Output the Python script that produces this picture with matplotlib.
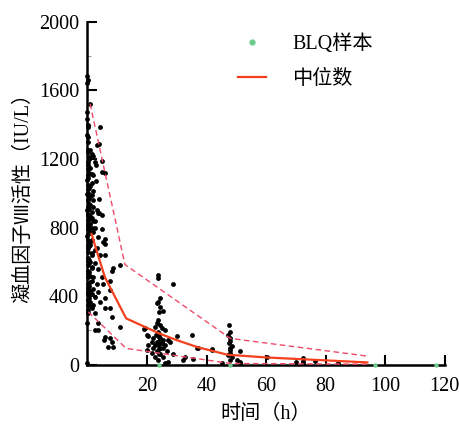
import matplotlib
matplotlib.use("Agg")
import matplotlib.pyplot as plt
from matplotlib.lines import Line2D
from matplotlib.ticker import MultipleLocator

CJK = ["Noto Sans CJK SC", "DejaVu Sans"]
SERIF = "Liberation Serif"
MIXED = [SERIF, "Noto Sans CJK SC", "DejaVu Sans"]

# observed factor VIII activity (time in h, activity in IU/L)
obs_time = [
    0, 0.3, 0, 0.9, 0, 0, 0.3, 4.2, 0, 0.3, 4.0, 3.3, 0.3, 1.4, 2.0, 0.6,
    4.8, 2.6, 0.3, 2.9, 4.8, 5.9, 0.3, 2.0, 0, 1.4, 2.9, 0.3, 2.0, 0, 0.9,
    4.0, 2.0, 0.6, 0, 2.0, 3.1, 4.0, 4.8, 0.3, 1.4, 2.6,
    0.9, 2.0, 0.3, 2.6, 4.8, 0, 2.0, 3.7, 0.9, 5.3, 0.3, 2.6, 1.4, 4.2,
    0.3, 2.6, 10.9, 1.4, 3.7, 8.2, 0.3, 2.0, 4.8, 0.9, 3.1, 5.3, 2.0, 0.3,
    3.7, 2.6, 5.9, 0.9, 4.2, 2.0, 5.9, 7.6, 0.3, 2.6, 8.2, 0, 3.7, 10.9,
    2.6, 3.7, 5.9, 7.6, 8.2, 7.0, 8.7, 0,
    8.7, 7.6, 7.6, 19.3, 19.9, 3.7, 5.9, 5.9, 3.1, 5.9, 5.6,
    0.2, 0.2, 0.2, 0.2, 0.2, 0.2, 0.2, 0.2, 0.2, 0.2, 0.2, 0.2, 0.2, 0.2,
    0.2, 0.2, 0.2, 0.2, 0.2, 0.2, 0.2, 0.2, 0.2, 0.2, 0.2, 0.2, 0.2, 0.2,
    1.0, 1.0, 1.0, 1.0, 1.0, 1.0, 1.0, 1.0, 1.0, 1.0,
    0.6, 0.6, 0.6, 0.6, 0.6, 0.6, 0.6, 0.6, 0.6, 0.6, 0.6, 0.6,
    1.6, 1.6, 1.6, 1.6, 1.6, 1.6, 1.6, 1.6, 1.6, 1.6,
    23.8, 23.8, 28.8, 24.4, 23.8, 23.3, 24.4, 25.5, 24.1, 23.8, 23.3, 24.4,
    22.7, 24.9, 19.0, 26.0, 23.8, 23.0, 20.4, 30.0, 35.0, 22.1, 24.4, 25.5,
    27.2, 21.6, 23.3, 24.9, 27.7, 22.7, 23.8, 26.0, 20.4, 24.4, 22.1, 25.5,
    37.2, 19.9, 23.3, 26.6, 42.0, 21.6, 24.4, 28.8, 22.7, 25.5, 32.8, 23.8,
    27.2, 32.2, 35.5, 26.0, 36.9, 41.7, 24.0, 24.0, 24.0, 24.0, 24.0, 24.0,
    47.6, 47.3, 47.9, 47.6, 48.4, 47.9, 51.4, 47.3, 48.4, 50.1, 47.9, 45.1,
    51.2, 51.2, 48.0, 48.0, 48.0, 48.0,
    60.2, 72.3, 72.3, 72.3, 70.0, 76.4, 84.2,
]
obs_value = [
    1684, 1663, 1643, 1522, 1473, 1435, 1386, 1386, 1337, 1327, 1289, 1279,
    1240, 1230, 1220, 1201, 1191, 1182, 1163, 1163, 1126, 1117, 1107, 1107,
    1080, 1061, 1070, 1024, 1014, 996, 986, 968, 958, 940, 902, 921, 902,
    884, 874, 865, 856, 837,
    865, 837, 810, 800, 790, 753, 772, 743, 715, 715, 678, 669, 640, 640,
    603, 593, 584, 565, 556, 546, 528, 509, 509, 481, 471, 471, 443, 424,
    424, 396, 387, 367, 367, 347, 328, 328, 299, 299, 279, 241, 241, 221,
    201, 201, 162, 153, 133, 104, 104, 7,
    565, 490, 434, 211, 172, 884, 733, 705, 678, 640, 143,
    1250, 1180, 1140, 1090, 1050, 1000, 960, 920, 880, 845, 820, 790, 760,
    730, 700, 660, 620, 580, 545, 510, 470, 450, 410, 380, 350, 320, 1400,
    1300,
    1250, 1150, 1040, 930, 820, 700, 600, 520, 430, 340,
    1210, 1120, 1030, 975, 910, 850, 780, 690, 610, 540, 460, 390,
    1110, 990, 890, 800, 730, 650, 570, 490, 410, 330,
    524, 505, 468, 387, 367, 357, 338, 314, 308, 260, 241, 231,
    221, 211, 206, 201, 192, 172, 166, 166, 172, 153, 153, 143,
    143, 133, 133, 124, 133, 114, 114, 114, 114, 100, 95, 95,
    95, 85, 81, 81, 85, 69, 65, 65, 46, 46, 46, 30,
    16, 26, 32, 7, 100, 89, 180, 160, 140, 120, 90, 60,
    231, 172, 153, 124, 108, 85, 81, 55, 46, 30, 26, 7,
    7, 16, 190, 140, 100, 70,
    46, 36, 20, 7, 16, 22, 7,
]

# below-limit-of-quantification samples
blq_time = [24, 48, 96.5, 117]
blq_value = [0, 0, 0, 0]

# median and prediction band
median_time = [1.4, 3.7, 5.9, 13, 24.4, 30, 37, 47, 60, 94]
median_value = [762, 631, 509, 270, 180, 143, 102, 58, 42, 13]
upper_time = [0.9, 12.6, 48, 94]
upper_value = [1522, 584, 153, 50]
lower_time = [0.3, 13, 48, 94]
lower_value = [308, 95, 7, 3]

fig = plt.figure(figsize=(4.6, 4.28), dpi=100)
ax = fig.add_axes([0.19, 0.148, 0.777, 0.801])

ax.scatter(obs_time, obs_value, s=12, color="black", linewidths=0, zorder=3, clip_on=False)
ax.scatter(blq_time, blq_value, s=10, color="#6dcc8c", linewidths=0, zorder=4, clip_on=False)
ax.plot(median_time, median_value, color="#f5401e", lw=1.6, zorder=5)
ax.plot(upper_time, upper_value, color="#ee4a6a", lw=1.0, ls=(0, (4, 2.5)), zorder=4)
ax.plot(lower_time, lower_value, color="#ee4a6a", lw=1.0, ls=(0, (4, 2.5)), zorder=4)

ax.set_xlim(0, 120)
ax.set_ylim(0, 2000)
ax.set_xticks([20, 40, 60, 80, 100, 120])
ax.set_yticks([0, 400, 800, 1200, 1600, 2000])
ax.yaxis.set_minor_locator(MultipleLocator(200))
ax.tick_params(axis="both", which="major", direction="in", length=7, width=1.5,
               labelsize=14.5, pad=6)
ax.tick_params(axis="x", which="major", pad=9)
ax.tick_params(axis="y", which="minor", direction="in", length=3, width=0.8, color="#999999")
for lab in ax.get_xticklabels() + ax.get_yticklabels():
    lab.set_fontfamily(SERIF)

for side in ["top", "right"]:
    ax.spines[side].set_visible(False)
for side in ["left", "bottom"]:
    ax.spines[side].set_linewidth(1.8)

ax.set_xlabel("时间（h）", family=MIXED, fontsize=14.5, labelpad=6)
ax.set_ylabel("凝血因子Ⅷ活性（IU/L）", family=MIXED, fontsize=14.5, labelpad=4)

handles = [
    Line2D([], [], ls="none", marker="o", ms=3.5, color="#6dcc8c"),
    Line2D([], [], color="#f5401e", lw=1.6),
]
ax.legend(handles, ["BLQ样本", "中位数"], loc="upper left", bbox_to_anchor=(0.37, 1.015),
          frameon=False, prop={"family": MIXED, "size": 14.5}, handlelength=1.4,
          handletextpad=1.3, labelspacing=0.75)

fig.savefig("out.png", dpi=100)
